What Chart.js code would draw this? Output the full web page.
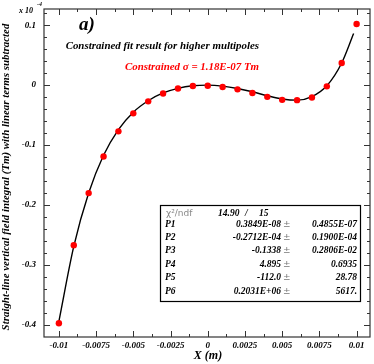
<!DOCTYPE html>
<html>
<head>
<meta charset="utf-8">
<script src="https://cdn.jsdelivr.net/npm/chart.js@4"></script>
<style>
  html, body { margin: 0; padding: 0; background: #fff; }
  #wrap { width: 374px; height: 364px; position: relative; }
</style>
</head>
<body>
<div id="wrap"><canvas id="fitChart" width="374" height="364"></canvas></div>
<script>
// measured points (units of 1e-4 Tm)
const pointX = [-0.010, -0.009, -0.008, -0.007, -0.006, -0.005, -0.004, -0.003, -0.002, -0.001, 0.000,
                0.001, 0.002, 0.003, 0.004, 0.005, 0.006, 0.007, 0.008, 0.009, 0.010];
const pointY = [-0.397, -0.267, -0.180, -0.119, -0.077, -0.047, -0.027, -0.014, -0.0055, -0.0015, -0.001,
                -0.003, -0.007, -0.013, -0.0195, -0.0245, -0.025, -0.0205, -0.002, 0.037, 0.102];

// fitted curve
const fitX = [-0.010, -0.009, -0.008, -0.007, -0.006, -0.005, -0.004, -0.003, -0.002, -0.001, 0.000,
              0.001, 0.002, 0.003, 0.004, 0.005, 0.006, 0.007, 0.008, 0.009, 0.0098];
const fitY = [-0.394, -0.269, -0.180, -0.117, -0.074, -0.045, -0.026, -0.013, -0.0053, -0.0011, 0.000,
              -0.0016, -0.0055, -0.011, -0.0176, -0.023, -0.025, -0.019, -0.001, 0.037, 0.086];

const xTicks = [-0.01, -0.0075, -0.005, -0.0025, 0, 0.0025, 0.005, 0.0075, 0.01];
const xTickLabels = ['-0.01', '-0.0075', '-0.005', '-0.0025', '0', '0.0025', '0.005', '0.0075', '0.01'];
const yTicks = [-0.4, -0.3, -0.2, -0.1, 0, 0.1];
const yTickLabels = ['-0.4', '-0.3', '-0.2', '-0.1', '0', '0.1'];

const statNames = ['P1', 'P2', 'P3', 'P4', 'P5', 'P6'];
const statValues = ['0.3849E-08', '-0.2712E-04', '-0.1338', '4.895', '-112.0', '0.2031E+06'];
const statErrors = ['0.4855E-07', '0.1900E-04', '0.2806E-02', '0.6935', '28.78', '5617.'];
const chi2 = '14.90', ndf = '15';

const SERIF = '"Liberation Serif", "DejaVu Serif", serif';

// frame with inward ticks, ROOT style
const framePlugin = {
    id: 'frame',
    afterDraw(chart) {
        const { ctx, chartArea: a, scales } = chart;
        const xs = scales.x, ys = scales.y;
        ctx.save();
        ctx.strokeStyle = '#333';
        ctx.lineWidth = 1.2;
        ctx.strokeRect(a.left, a.top, a.right - a.left, a.bottom - a.top);

        ctx.lineWidth = 1;
        ctx.beginPath();
        // x ticks, major + minor (halfway)
        for (let i = 0; i < xTicks.length; i++) {
            const px = Math.round(xs.getPixelForValue(xTicks[i])) + 0.5;
            ctx.moveTo(px, a.bottom); ctx.lineTo(px, a.bottom - 6);
            ctx.moveTo(px, a.top); ctx.lineTo(px, a.top + 6);
            if (i < xTicks.length - 1) {
                const mx = Math.round(xs.getPixelForValue((xTicks[i] + xTicks[i + 1]) / 2)) + 0.5;
                ctx.moveTo(mx, a.bottom); ctx.lineTo(mx, a.bottom - 3);
                ctx.moveTo(mx, a.top); ctx.lineTo(mx, a.top + 3);
            }
        }
        // y ticks, 5 subdivisions
        for (let i = 0; i < yTicks.length; i++) {
            const py = Math.round(ys.getPixelForValue(yTicks[i])) + 0.5;
            ctx.moveTo(a.left, py); ctx.lineTo(a.left + 6, py);
            ctx.moveTo(a.right, py); ctx.lineTo(a.right - 6, py);
            for (let k = 1; k < 5; k++) {
                const v = yTicks[i] + k * 0.02;
                if (v > ys.max) break;
                const my = Math.round(ys.getPixelForValue(v)) + 0.5;
                ctx.moveTo(a.left, my); ctx.lineTo(a.left + 3, my);
                ctx.moveTo(a.right, my); ctx.lineTo(a.right - 3, my);
            }
        }
        ctx.stroke();

        // axis titles
        ctx.fillStyle = '#000';
        ctx.font = 'italic bold 12px ' + SERIF;
        ctx.textAlign = 'center';
        ctx.textBaseline = 'middle';
        ctx.fillText('X (m)', 208, 356);

        ctx.save();
        ctx.translate(6, 177);
        ctx.rotate(-Math.PI / 2);
        ctx.font = 'italic bold 10.9px ' + SERIF;
        ctx.fillText('Straight-line vertical field integral (Tm) with linear terms subtracted', 0, 0);
        ctx.restore();

        // exponent
        ctx.textAlign = 'left';
        ctx.font = 'italic bold 8px ' + SERIF;
        ctx.fillText('x 10', 19, 11);
        ctx.font = 'italic bold 6px ' + SERIF;
        ctx.fillText('-4', 37, 4);

        // labels
        ctx.font = 'italic bold 19px ' + SERIF;
        ctx.fillText('a)', 79, 25);
        ctx.textAlign = 'right';
        ctx.font = 'italic bold 10.9px ' + SERIF;
        ctx.fillText('Constrained fit result for higher multipoles', 259, 46);
        ctx.fillStyle = '#ff0000';
        ctx.font = 'italic bold 10.9px ' + SERIF;
        ctx.fillText('Constrained \u03c3 = 1.18E-07 Tm', 259, 67);

        // stats box
        ctx.fillStyle = '#fff';
        ctx.fillRect(160, 205, 200, 96);
        ctx.strokeStyle = '#000';
        ctx.lineWidth = 1.2;
        ctx.strokeRect(160.5, 205.5, 200, 96);

        ctx.textAlign = 'left';
        ctx.fillStyle = '#888';
        ctx.font = '9px "DejaVu Sans", sans-serif';
        ctx.fillText('\u03c7\u00b2/ndf', 166, 214);
        ctx.fillStyle = '#000';
        ctx.font = 'italic bold 9.5px ' + SERIF;
        ctx.fillText(chi2, 218, 214);
        ctx.fillText('/', 245, 214);
        ctx.fillText(ndf, 259, 214);

        const rowY = [224.5, 238, 251, 264.5, 278, 291.5];
        for (let i = 0; i < statNames.length; i++) {
            ctx.textAlign = 'left';
            ctx.fillStyle = '#000';
            ctx.font = 'italic bold 9.5px ' + SERIF;
            ctx.fillText(statNames[i], 165, rowY[i]);
            ctx.textAlign = 'right';
            ctx.fillText(statValues[i], 281, rowY[i]);
            ctx.fillText(statErrors[i], 357, rowY[i]);
            ctx.textAlign = 'left';
            ctx.fillStyle = '#777';
            ctx.font = '9px "DejaVu Sans", sans-serif';
            ctx.fillText('\u00b1', 283, rowY[i]);
        }
        ctx.restore();
    }
};

const ctx = document.getElementById('fitChart').getContext('2d');
new Chart(ctx, {
    type: 'line',
    data: {
        datasets: [{
            label: 'points',
            data: pointX.map((x, i) => ({ x: x, y: pointY[i] })),
            showLine: false,
            pointRadius: 3.2,
            pointBackgroundColor: '#ff0000',
            pointBorderWidth: 0,
            borderWidth: 0
        }, {
            label: 'fit',
            data: fitX.map((x, i) => ({ x: x, y: fitY[i] })),
            borderColor: '#000',
            borderWidth: 1.4,
            pointRadius: 0,
            cubicInterpolationMode: 'monotone',
            fill: false
        }]
    },
    options: {
        responsive: false,
        animation: false,
        devicePixelRatio: 1,
        layout: { padding: { top: 9, right: 2.5, left: 0, bottom: 0 } },
        plugins: { legend: { display: false }, tooltip: { enabled: false } },
        scales: {
            x: {
                type: 'linear',
                min: -0.011,
                max: 0.0109,
                afterBuildTicks: (s) => { s.ticks = xTicks.map(v => ({ value: v })); },
                afterFit: (s) => { s.height = 27; s.paddingLeft = 0; s.paddingRight = 0; },
                grid: { display: false, drawTicks: false },
                border: { display: false },
                ticks: {
                    autoSkip: false,
                    maxRotation: 0,
                    padding: 3,
                    color: '#000',
                    font: { family: SERIF, size: 9, style: 'italic', weight: 'bold' },
                    callback: (v, i) => xTickLabels[i]
                }
            },
            y: {
                type: 'linear',
                min: -0.42,
                max: 0.127,
                afterBuildTicks: (s) => { s.ticks = yTicks.map(v => ({ value: v })); },
                afterFit: (s) => { s.width = 44; s.paddingTop = 0; s.paddingBottom = 0; },
                grid: { display: false, drawTicks: false },
                border: { display: false },
                ticks: {
                    autoSkip: false,
                    padding: 8,
                    color: '#000',
                    font: { family: SERIF, size: 9, style: 'italic', weight: 'bold' },
                    callback: (v, i) => yTickLabels[i]
                }
            }
        }
    },
    plugins: [framePlugin]
});
</script>
</body>
</html>
